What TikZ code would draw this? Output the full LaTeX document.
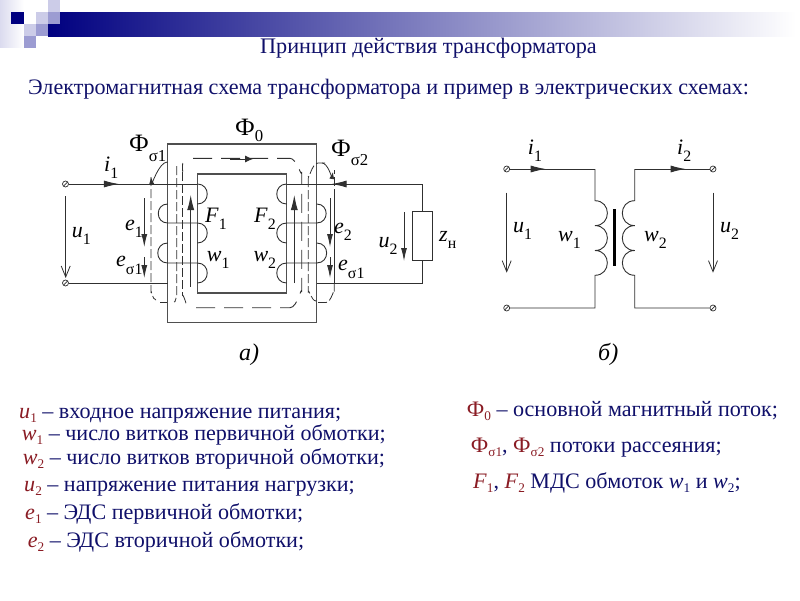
\documentclass[tikz,border=0pt]{standalone}
\usepackage{fontspec}
\setmainfont{Liberation Serif}
\usetikzlibrary{arrows.meta,decorations.markings}
\definecolor{inktext}{HTML}{10106A}
\definecolor{inkred}{HTML}{8A1C24}
\definecolor{barnavy}{HTML}{000080}
\definecolor{sqlight}{HTML}{CCCCE8}
\definecolor{sqmid}{HTML}{9C9CD2}
\definecolor{wireink}{HTML}{303030}
\newcommand{\lbl}[3][6]{\textit{#2}\raisebox{-#1pt}{\scalebox{.72}{#3}}}
\newcommand{\phisub}[2][6]{\textup{\fontsize{25}{25}\selectfont Ф}\raisebox{-#1pt}{\scalebox{.76}{#2}}}
\newcommand{\redsub}[2]{\textcolor{inkred}{\textit{#1}\raisebox{-4pt}{\scalebox{.6}{#2}}}}
\newcommand{\redphi}[1]{\textcolor{inkred}{Ф\raisebox{-4pt}{\scalebox{.6}{#1}}}}
\tikzset{
    wire/.style={draw=wireink, line width=0.9pt},
    core/.style={draw=wireink!85, line width=1.1pt},
    fluxmain/.style={draw=wireink, line width=0.9pt, dash pattern=on 19pt off 9pt},
    fluxleak/.style={draw=wireink, line width=0.8pt, dash pattern=on 9pt off 3pt},
    terminal/.style={circle, draw=wireink, line width=0.7pt, inner sep=0pt, minimum size=6pt,
        path picture={\draw[wireink, line width=0.7pt] (path picture bounding box.south west)--(path picture bounding box.north east);}},
    tag/.style={anchor=base west, inner sep=0pt, text=black, font=\fontsize{22}{22}\selectfont},
    row/.style={anchor=base west, inner sep=0pt, text=inktext, font=\fontsize{22.1}{24}\selectfont},
    lobeR/.style={out=0, in=0, looseness=1.7},
    lobeL/.style={out=180, in=180, looseness=1.7},
    hollow/.style={-{Straight Barb[length=11pt,width=9pt,line width=0.8pt]}},
    solidtip/.style={-{Latex[length=13pt,width=6pt]}},
    arrow mid/.style={postaction={decorate,decoration={markings,
        mark=at position #1 with {\arrow{Latex[length=15pt,width=7pt]}}}}},
}
\begin{document}
\begin{tikzpicture}[x=1pt,y=-1pt]
\useasboundingbox (0,0) rectangle (800,600);
\fill[white] (0,0) rectangle (800,600);
\shade[left color=barnavy, right color=white] (48,12) rectangle (796,36);
\fill[white] (48,12) rectangle (60,24);
\shade[left color=sqlight!70, right color=white] (0,0) rectangle (24,47);
\fill[barnavy] (11,12) rectangle (24,24);
\fill[sqlight] (48,0) rectangle (60,12);
\fill[sqlight] (36,12) rectangle (48,24);
\fill[sqmid] (48,12) rectangle (60,24);
\fill[sqlight] (24,24) rectangle (36,36);
\fill[sqmid] (36,24) rectangle (48,36);
\fill[sqmid] (24,36) rectangle (36,48);

\node[row, font=\fontsize{22.2}{24}\selectfont] (title) at (260,53) {Принцип действия трансформатора};
\node[row] (subtitle) at (28,94) {Электромагнитная схема трансформатора и пример в электрических схемах:};

% core
\draw[core] (167.7,144) rectangle (316.7,322.7);
\draw[core] (197.3,174) rectangle (286.7,293);

% flux lines
\draw[fluxmain] (193,158.3)--(290,158.3) to[out=0,in=-90] (301.7,172)--(301.7,292) to[out=90,in=0] (290,307.7)--(195,307.7);
\draw[fluxleak] (182.7,172)--(182.7,296);
\draw[fluxleak] (182.7,163) to[out=-100,in=90] (182.7,172);
\draw[fluxleak] (182.7,296) to[out=90,in=-60] (186,305);
\draw[fluxleak] (151,177)--(151,292) to[out=90,in=180] (156,300);
\draw[fluxleak] (160,302)--(167,302);
\draw[fluxleak] (176.7,166)--(176.7,296) to[out=90,in=-60] (174,302);
\draw[wireink, line width=0.8pt, -{Latex[length=7pt,width=5pt]}] (167.5,162) to[out=180,in=-85] (151,177);
\draw[fluxleak] (308.3,178)--(308.3,292) to[out=90,in=180] (316,301);
\draw[fluxleak] (318,302.5)--(326,302.5) to[out=0,in=90] (334.3,292)--(334.3,283);
\draw[fluxleak] (334.3,198)--(334.3,170);
\draw[fluxleak] (325,163)--(318,163) to[out=180,in=-90] (308.3,176);
\draw[wireink, line width=0.8pt, -{Latex[length=7pt,width=5pt]}] (322,163) to[out=0,in=-100] (333,172);
\draw[wireink, line width=0.9pt] (334.3,198)--(334.3,283);
\draw[wireink, -{Latex[length=8pt,width=7pt]}, line width=0.9pt] (230,159)--(253,159);

% flux arrows inside the core
\draw[wireink, line width=0.9pt, -{Latex[length=15pt,width=7pt]}] (190.7,286.7)--(190.7,195);
\draw[wireink, line width=0.9pt, -{Latex[length=15pt,width=7pt]}] (294.3,283)--(294.3,195);

% primary side
\node[terminal] (p1) at (65.5,184) {};
\node[terminal] (p2) at (65.5,283) {};
\coordinate (pa) at (197.3,184);
\coordinate (pb) at (197.3,204);
\coordinate (pc) at (167.7,204);
\coordinate (pd) at (167.7,223);
\coordinate (pe) at (197.3,223);
\coordinate (pf) at (197.3,243);
\coordinate (pg) at (167.7,243);
\coordinate (ph) at (167.7,263);
\coordinate (pi) at (197.3,263);
\coordinate (pj) at (197.3,283);
\coordinate (pk) at (167.7,283);
\draw[wire, arrow mid=0.39] (p1)--(pa);
\draw[wire] (pa) to[lobeR] (pb);
\draw[wire] (pc) to[lobeL] (pd)--(pe) to[lobeR] (pf);
\draw[wire] (pg) to[lobeL] (ph)--(pi) to[lobeR] (pj);
\draw[wire] (p2)--(pk);

% secondary side
\coordinate (sa) at (286.7,184);
\coordinate (sb) at (286.7,204);
\coordinate (sc) at (316.7,204);
\coordinate (sd) at (316.7,223);
\coordinate (se) at (286.7,223);
\coordinate (sf) at (286.7,243);
\coordinate (sg) at (316.7,243);
\coordinate (sh) at (316.7,263);
\coordinate (si) at (286.7,263);
\coordinate (sj) at (286.7,283);
\coordinate (sk) at (316.7,283.3);
\coordinate (sl) at (422.7,184);
\coordinate (sm) at (422.7,283.3);
\node[draw=wireink, line width=0.9pt, fill=white, minimum width=19.6pt, minimum height=49.3pt, inner sep=0pt] (load) at (422.7,235.6) {};
\draw[wire] (sa) to[lobeL] (sb);
\draw[wire] (sc) to[lobeR] (sd)--(se) to[lobeL] (sf);
\draw[wire] (sg) to[lobeR] (sh)--(si) to[lobeL] (sj);
\draw[wire, arrow mid=0.67] (sl)--(sa);
\draw[wire] (sl)--(load);
\draw[wire] (load)--(sm)--(sk);

% voltage and emf arrows
\coordinate (ua) at (65.7,196);
\coordinate (ub) at (65.7,278);
\draw[wire, hollow] (ua)--(ub);
\draw[wire, solidtip] (144.3,198)--(144.3,247);
\draw[wire, solidtip] (144.3,257)--(144.3,278);
\draw[wire, solidtip] (330,198)--(330,247);
\draw[wire, solidtip] (330,257)--(330,278);
\draw[wire, solidtip] (404,212)--(404,261);

% left labels
\node[tag] (phi0) at (235,135) {\phisub[6]{0}};
\node[tag] (phis1) at (129,151) {\phisub[10]{σ1}};
\node[tag] (phis2) at (331,156.7) {\phisub[9]{σ2}};
\node[tag] (i1a) at (104,171.7) {\lbl[7]{i}{1}};
\node[tag] (e1a) at (125,230) {\lbl[7]{e}{1}};
\node[tag] (es1a) at (116,266) {\lbl[8]{e}{σ1}};
\node[tag] (u1a) at (71.7,237) {\lbl[7]{u}{1}};
\node[tag] (f1a) at (205,222.3) {\lbl[7]{F}{1}};
\node[tag] (w1a) at (206.7,261) {\lbl[7]{w}{1}};
\node[tag] (f2a) at (254,222.3) {\lbl[7]{F}{2}};
\node[tag] (w2a) at (253.3,261) {\lbl[7]{w}{2}};
\node[tag] (e2a) at (334,233) {\lbl[7]{e}{2}};
\node[tag] (es1b) at (338,270.7) {\lbl[8]{e}{σ1}};
\node[tag] (u2a) at (378.3,247) {\lbl[7]{u}{2}};
\node[tag] (zload) at (439,241.7) {\lbl[7]{z}{н}};
\node[tag, font=\fontsize{24}{24}\selectfont\itshape] (capa) at (239,360) {а)};

% right scheme
\node[terminal] (q1) at (506.7,169) {};
\node[terminal] (q2) at (506.7,308) {};
\node[terminal] (r1) at (713,169) {};
\node[terminal] (r2) at (713,308) {};
\coordinate (qa) at (595,169);
\coordinate (qb) at (595,200.7);
\coordinate (qc) at (595,225.6);
\coordinate (qd) at (595,250.5);
\coordinate (qe) at (595,275.3);
\coordinate (qf) at (595,308);
\coordinate (ra) at (634.7,169);
\coordinate (rb) at (634.7,200.7);
\coordinate (rc) at (634.7,225.6);
\coordinate (rd) at (634.7,250.5);
\coordinate (re) at (634.7,275.3);
\coordinate (rf) at (634.7,308);
\draw[wire, arrow mid=0.42] (q1)--(qa);
\draw[wire] (qa)--(qb) to[lobeR] (qc) to[lobeR] (qd) to[lobeR] (qe)--(qf)--(q2);
\draw[wire, arrow mid=0.68] (ra)--(r1);
\draw[wire] (ra)--(rb) to[lobeL] (rc) to[lobeL] (rd) to[lobeL] (re)--(rf)--(r2);
\draw[black, line width=3pt] (614.7,209.3)--(614.7,265.7);
\coordinate (va) at (506.7,192.7);
\coordinate (vb) at (506.7,272.7);
\coordinate (vc) at (713,192.7);
\coordinate (vd) at (713,272.7);
\draw[wire, hollow] (va)--(vb);
\draw[wire, hollow] (vc)--(vd);
\node[tag] (i1b) at (527.7,154.3) {\lbl[7]{i}{1}};
\node[tag] (i2b) at (677,154.3) {\lbl[7]{i}{2}};
\node[tag] (u1b) at (513,232.7) {\lbl[7]{u}{1}};
\node[tag] (u2b) at (720,232.7) {\lbl[7]{u}{2}};
\node[tag] (w1b) at (558,241.7) {\lbl[7]{w}{1}};
\node[tag] (w2b) at (644,241.7) {\lbl[7]{w}{2}};
\node[tag, font=\fontsize{24}{24}\selectfont\itshape] (capb) at (598,360) {б)};

% legend
\node[row] (l1) at (19,418) {\redsub{u}{1} – входное напряжение питания;};
\node[row] (l2) at (21.7,440) {\redsub{w}{1} – число витков первичной обмотки;};
\node[row] (l3) at (22.7,464) {\redsub{w}{2} – число витков вторичной обмотки;};
\node[row] (l4) at (24,491.5) {\redsub{u}{2} – напряжение питания нагрузки;};
\node[row] (l5) at (25,519) {\redsub{e}{1} – ЭДС первичной обмотки;};
\node[row] (l6) at (27.7,547.5) {\redsub{e}{2} – ЭДС вторичной обмотки;};
\node[row] (m1) at (466.7,416) {\redphi{0} – основной магнитный поток;};
\node[row] (m2) at (470.7,452) {\redphi{σ1}, \redphi{σ2} потоки рассеяния;};
\node[row] (m3) at (473,488) {\redsub{F}{1}, \redsub{F}{2} МДС обмоток \textit{w}\raisebox{-4pt}{\scalebox{.6}{1}} и \textit{w}\raisebox{-4pt}{\scalebox{.6}{2}};};
\end{tikzpicture}
\end{document}
